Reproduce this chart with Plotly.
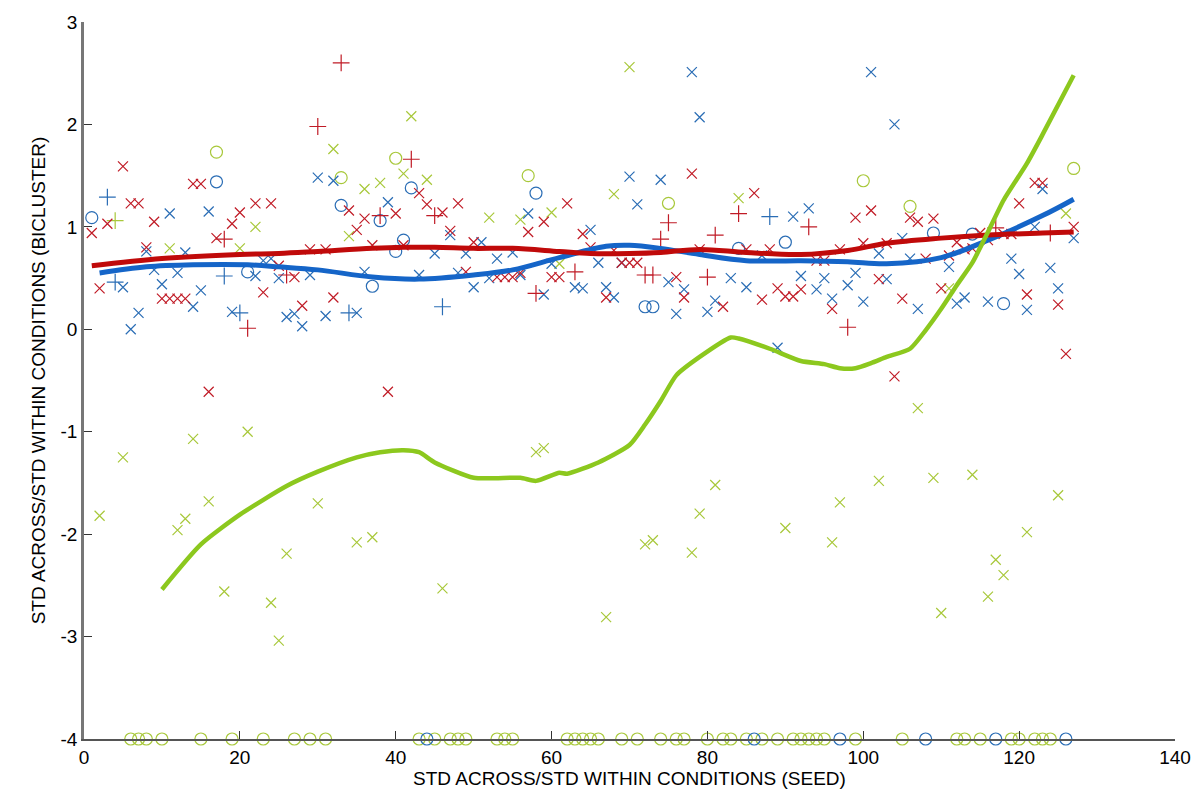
import plotly.graph_objects as go

# ---------------- data ----------------
# red series
red_x_x = [1,2,3,5,6,7,8,9,10,11,12,13,14,15,16,17,19,20,22,23,24,25,27,28,29,31,32,34,35,36,37,39,40,41,43,44,46,47,48,49,50,53,54,55,56,57,59,60,61,62,64,65,67,68,69,70,71,76,77,78,79,82,85,86,87,88,89,90,91,92,94,95,96,97,99,100,101,102,103,104,105,106,107,108,109,110,111,112,113,114,115,116,118,119,120,121,122,123,125,126,127]
red_x_y = [0.94,0.40,1.03,1.59,1.23,1.23,0.80,1.05,0.30,0.30,0.30,0.30,1.42,1.42,-0.61,0.89,1.03,1.14,1.23,0.36,1.23,0.62,0.51,0.23,0.78,0.78,0.31,1.16,0.97,1.08,0.82,-0.61,1.13,0.82,1.33,1.22,1.14,0.96,1.23,0.56,0.85,0.51,0.51,0.51,0.55,0.95,1.05,0.51,0.51,1.23,0.93,0.80,0.31,0.77,0.65,0.65,0.65,0.51,0.31,1.52,0.78,0.22,0.78,1.33,0.29,0.78,0.40,0.32,0.32,0.39,0.67,0.67,0.20,0.78,1.09,0.84,1.16,0.49,0.84,-0.46,0.30,1.09,1.05,0.69,1.08,0.40,0.72,0.85,0.78,0.79,0.94,0.87,0.93,0.93,1.23,0.34,1.43,1.43,0.24,-0.24,1.00]
red_plus_x = [18,21,26,30,33,38,42,45,58,63,72,73,74,75,80,81,84,93,98,117,124]
red_plus_y = [0.88,0.01,0.53,1.98,2.60,1.11,1.66,1.11,0.35,0.56,0.53,0.53,0.88,1.04,0.51,0.92,1.13,1.00,0.02,0.99,0.94]

# blue series
blue_x_x = [5,6,7,8,9,10,11,12,13,14,15,16,19,22,23,24,25,26,27,28,29,30,31,32,35,36,39,43,45,47,48,49,50,51,52,53,55,56,57,59,60,63,64,65,66,67,68,69,70,71,74,75,76,77,78,79,80,81,83,85,87,89,91,92,93,94,95,96,98,99,100,101,102,103,104,105,106,107,111,112,113,116,119,120,121,122,123,124,125,127]
blue_x_y = [0.41,0.00,0.16,0.76,0.58,0.44,1.13,0.55,0.75,0.22,0.38,1.15,0.17,0.52,0.67,0.69,0.50,0.12,0.15,0.03,0.53,1.48,0.13,1.45,0.16,0.56,1.24,0.53,0.74,0.92,0.55,0.74,0.41,0.85,0.50,0.69,0.75,0.53,1.13,0.34,0.64,0.41,0.40,0.97,0.65,0.41,0.31,0.65,1.49,1.22,1.46,0.46,0.15,0.39,2.51,2.07,0.17,0.28,0.50,0.41,0.72,-0.18,1.10,0.52,1.18,0.39,0.50,0.30,0.43,0.55,0.27,2.51,0.74,0.49,2.00,0.89,0.69,0.20,0.61,0.25,0.31,0.27,0.69,0.54,0.19,1.00,1.37,0.60,0.40,0.89]
blue_plus_x = [3,4,18,20,34,46,88]
blue_plus_y = [1.29,0.46,0.52,0.16,0.16,0.22,1.10]
blue_o_x = [1,17,21,33,37,38,40,41,42,58,72,73,84,90,109,114,118,44,86,97,108,117,126]
blue_o_y = [1.09,1.44,0.56,1.21,0.42,1.06,0.76,0.87,1.38,1.33,0.22,0.22,0.79,0.85,0.94,0.93,0.25,-4,-4,-4,-4,-4,-4]

# green series
green_x_x = [2,5,11,12,13,14,16,18,20,21,22,24,25,26,30,32,34,35,36,37,38,41,42,44,46,52,56,58,59,60,61,67,68,70,72,73,78,79,81,84,90,96,97,102,107,109,110,111,114,116,117,118,121,125,126]
green_x_y = [-1.82,-1.25,0.79,-1.96,-1.85,-1.07,-1.68,-2.56,0.79,-1.00,1.00,-2.67,-3.04,-2.19,-1.70,1.76,0.91,-2.08,1.37,-2.03,1.43,1.52,2.08,1.46,-2.53,1.09,1.07,-1.20,-1.16,1.14,0.64,-2.81,1.32,2.56,-2.10,-2.06,-2.18,-1.80,-1.52,1.28,-1.94,-2.08,-1.69,-1.48,-0.77,-1.45,-2.77,0.40,-1.42,-2.61,-2.25,-2.40,-1.98,-1.62,1.13]
green_plus_x = [4]
green_plus_y = [1.06]
green_o_x = [17,33,40,57,75,100,106,127,
             6,7,8,10,15,19,23,27,29,31,43,45,47,48,49,53,54,55,62,63,64,65,66,69,71,74,76,77,80,82,83,85,87,89,91,92,93,94,95,99,105,112,113,115,119,120,122,123,124]
green_o_y = [1.73,1.48,1.67,1.50,1.23,1.45,1.20,1.57] + [-4]*49

# smoothed trend lines
red_line_x = [1,10,20,25,30,37,41,45,50,55,61,65,70,74,79,85,92,98,103,110,116,123,127]
red_line_y = [0.62,0.69,0.73,0.74,0.76,0.79,0.80,0.80,0.79,0.79,0.76,0.74,0.74,0.75,0.78,0.75,0.73,0.77,0.84,0.89,0.92,0.94,0.95]
blue_line_x = [2,8,14,21,25,30,37,43,50,55,61,67,70,74,79,85,92,98,103,110,116,123,127]
blue_line_y = [0.55,0.61,0.63,0.63,0.61,0.58,0.51,0.49,0.53,0.58,0.70,0.81,0.82,0.79,0.73,0.67,0.67,0.66,0.64,0.70,0.87,1.11,1.27]
green_line_x = [10,15,20,26,30,35,38,41,43,45,50,56,58,61,62,66,70,72,74,76,79,83,84,88,92,95,97,99,101,103,106,108,110,112,114,116,118,121,123,127]
green_line_y = [-2.54,-2.10,-1.81,-1.53,-1.39,-1.25,-1.20,-1.18,-1.20,-1.30,-1.45,-1.45,-1.48,-1.40,-1.41,-1.30,-1.13,-0.93,-0.70,-0.45,-0.27,-0.08,-0.09,-0.19,-0.31,-0.34,-0.38,-0.38,-0.33,-0.27,-0.19,-0.01,0.20,0.43,0.65,0.95,1.26,1.62,1.90,2.48]

x_ticks = [0,20,40,60,80,100,120,140]
y_ticks = [-4,-3,-2,-1,0,1,2,3]
y_tick_labels = ["-4","-3","-2","-1","0","1","2","3"]

RED = "#c01b26"
BLUE = "#2a6db5"
GREEN = "#a8c83a"
RED_L = "#c00a0a"
BLUE_L = "#1565c8"
GREEN_L = "#8cc81e"

fig = go.Figure()

def pts(x, y, color, symbol, size):
    fig.add_trace(go.Scatter(
        x=x, y=y, mode="markers", cliponaxis=False, showlegend=False,
        marker=dict(symbol=symbol, size=size, color=color,
                    line=dict(color=color, width=1.2))))

pts(green_x_x, green_x_y, GREEN, "x-thin-open", 10)
pts(green_plus_x, green_plus_y, GREEN, "cross-thin-open", 12)
pts(green_o_x, green_o_y, GREEN, "circle-open", 12)
pts(blue_x_x, blue_x_y, BLUE, "x-thin-open", 10)
pts(blue_plus_x, blue_plus_y, BLUE, "cross-thin-open", 12)
pts(blue_o_x, blue_o_y, BLUE, "circle-open", 12)
pts(red_x_x, red_x_y, RED, "x-thin-open", 10)
pts(red_plus_x, red_plus_y, RED, "cross-thin-open", 12)

fig.add_trace(go.Scatter(x=blue_line_x, y=blue_line_y, mode="lines", showlegend=False,
                         line=dict(color=BLUE_L, width=5, shape="spline")))
fig.add_trace(go.Scatter(x=red_line_x, y=red_line_y, mode="lines", showlegend=False,
                         line=dict(color=RED_L, width=5, shape="spline")))
fig.add_trace(go.Scatter(x=green_line_x, y=green_line_y, mode="lines", showlegend=False,
                         line=dict(color=GREEN_L, width=4.5, shape="spline", smoothing=0.6)))

font = dict(family="Arial, Liberation Sans, sans-serif", size=19, color="black")
tfont = dict(family="Arial, Liberation Sans, sans-serif", size=19, color="black")

# the page body adds an 8px offset, so the figure is sized/margined to compensate
fig.update_layout(
    width=1192, height=795,
    margin=dict(l=76, r=25, t=14, b=64),
    paper_bgcolor="white", plot_bgcolor="white",
    font=font,
    xaxis=dict(range=[0, 140], tickvals=x_ticks, ticks="inside", ticklen=8,
               tickcolor="#333333", showline=True, linecolor="#555555", linewidth=1.5,
               showgrid=False, zeroline=False, tickfont=tfont, automargin=False,
               title=dict(text="STD ACROSS/STD WITHIN CONDITIONS (SEED)", font=font, standoff=2)),
    yaxis=dict(range=[-4, 3], tickvals=y_ticks, ticktext=y_tick_labels, ticks="inside", ticklen=8,
               tickcolor="#333333", showline=True, linecolor="#777777", linewidth=2.5,
               showgrid=False, zeroline=False, tickfont=tfont, automargin=False,
               title=dict(text="STD ACROSS/STD WITHIN CONDITIONS (BICLUSTER)", font=font, standoff=10)),
)

fig.write_html("out.html")
